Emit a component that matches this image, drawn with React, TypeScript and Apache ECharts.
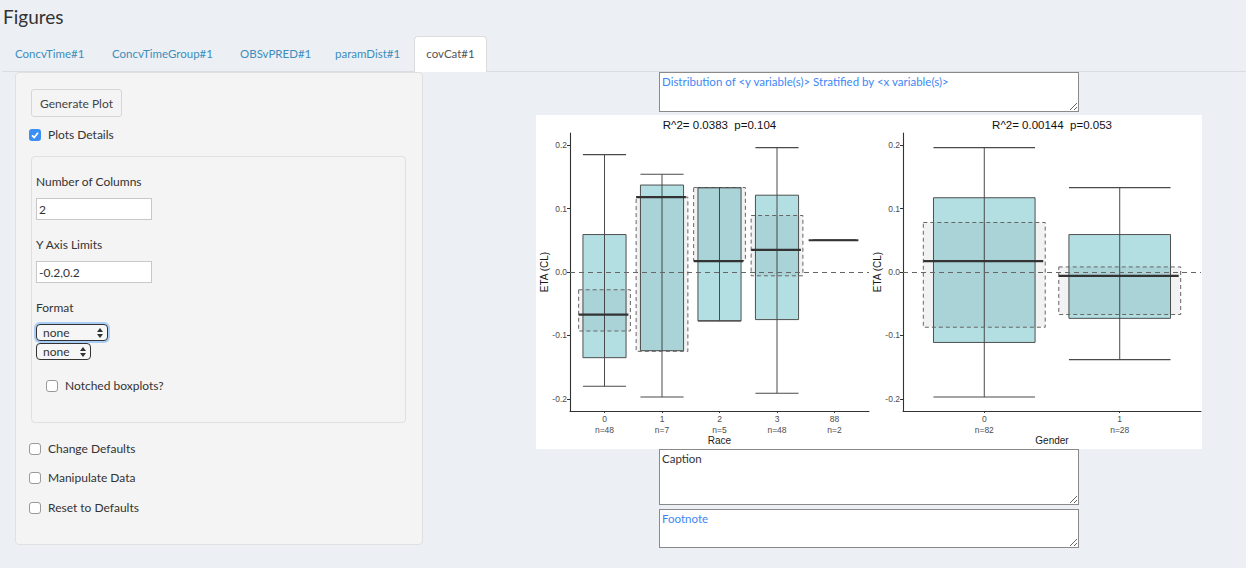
import React, { useEffect, useRef } from 'react';
import * as echarts from 'echarts';

// race panel
const raceCats = ['0', '1', '2', '3', '88'];
const raceN = [48, 7, 5, 48, 2];
const raceLow = [-0.18, -0.197, -0.077, -0.191, 0.05];
const raceQ1 = [-0.135, -0.124, -0.077, -0.075, 0.05];
const raceMed = [-0.067, 0.118, 0.017, 0.035, 0.05];
const raceQ3 = [0.059, 0.137, 0.133, 0.121, 0.05];
const raceHigh = [0.185, 0.154, 0.133, 0.196, 0.05];
const raceCiLow = [-0.093, -0.125, 0.018, -0.006, null];
const raceCiHigh = [-0.028, 0.118, 0.133, 0.089, null];

// gender panel
const genderCats = ['0', '1'];
const genderN = [82, 28];
const genderLow = [-0.197, -0.138];
const genderQ1 = [-0.111, -0.073];
const genderMed = [0.017, -0.006];
const genderQ3 = [0.117, 0.059];
const genderHigh = [0.196, 0.133];
const genderCiLow = [-0.087, -0.067];
const genderCiHigh = [0.078, 0.008];

const yTicks = [-0.2, -0.1, 0, 0.1, 0.2];
const panelTitles = ['R^2= 0.0383  p=0.104', 'R^2= 0.00144  p=0.053'];
const xNames = ['Race', 'Gender'];

const chartFont = '"Liberation Sans", Arial, sans-serif';
const uiFont = 'Lato, "Noto Sans", sans-serif';

const rows = (lo: any[], q1: any[], med: any[], q3: any[], hi: any[], cl: any[], ch: any[]) =>
  lo.map((_, i) => [i, lo[i], q1[i], med[i], q3[i], hi[i], cl[i] ?? '-', ch[i] ?? '-']);

const renderBox = (params: any, api: any) => {
  const x = api.value(0);
  const unit = api.size([1, 0])[0];
  const px = api.coord([x, 0])[0];
  const py = (v: number) => api.coord([x, v])[1];
  const lo = api.value(1);
  const q1 = api.value(2);
  const med = api.value(3);
  const q3 = api.value(4);
  const hi = api.value(5);
  const cLo = api.value(6);
  const cHi = api.value(7);
  const bw = unit * 0.75;
  const dw = unit * 0.9;
  const children: any[] = [
    {
      type: 'rect',
      shape: { x: px - bw / 2, y: py(q3), width: bw, height: py(q1) - py(q3) },
      style: { fill: '#b3dfe3', stroke: '#4f4f4f', lineWidth: 1 },
    },
    {
      type: 'line',
      shape: { x1: px, y1: py(hi), x2: px, y2: py(lo) },
      style: { stroke: '#4a4a4a', lineWidth: 1 },
    },
    {
      type: 'line',
      shape: { x1: px - bw / 2, y1: py(hi), x2: px + bw / 2, y2: py(hi) },
      style: { stroke: '#4a4a4a', lineWidth: 1.1 },
    },
    {
      type: 'line',
      shape: { x1: px - bw / 2, y1: py(lo), x2: px + bw / 2, y2: py(lo) },
      style: { stroke: '#4a4a4a', lineWidth: 1.1 },
    },
  ];
  if (cLo != null && !isNaN(cLo)) {
    children.push({
      type: 'rect',
      shape: { x: px - dw / 2, y: py(cHi), width: dw, height: py(cLo) - py(cHi) },
      style: { fill: 'rgba(0,0,0,0.05)', stroke: '#666', lineWidth: 1, lineDash: [4, 3] },
    });
  }
  children.push({
    type: 'line',
    shape: { x1: px - dw / 2, y1: py(med), x2: px + dw / 2 - 2, y2: py(med) },
    style: { stroke: '#333', lineWidth: 2.2 },
  });
  return { type: 'group', children };
};

const xAxisFor = (idx: number, cats: string[], ns: number[]) => ({
  type: 'value',
  gridIndex: idx,
  min: -0.6,
  max: cats.length - 1 + 0.6,
  axisLine: { show: true, onZero: false, lineStyle: { color: '#333', width: 1.1 } },
  axisTick: {
    show: true,
    length: 2,
    customValues: cats.map((_, i) => i),
    lineStyle: { color: '#333' },
  },
  axisLabel: {
    customValues: cats.map((_, i) => i),
    formatter: (v: number) => `${cats[Math.round(v)]}\nn=${ns[Math.round(v)]}`,
    fontSize: 8.5,
    lineHeight: 10.5,
    margin: 3,
    color: '#4d4d4d',
    fontFamily: chartFont,
  },
  splitLine: { show: false },
  name: xNames[idx],
  nameLocation: 'middle',
  nameGap: 29,
  nameMoveOverlap: false,
  nameTextStyle: { fontSize: 10, color: '#1a1a1a', fontFamily: chartFont, verticalAlign: 'middle' },
});

const yAxisFor = (idx: number) => ({
  type: 'value',
  gridIndex: idx,
  min: -0.219,
  max: 0.219,
  axisLine: { show: true, onZero: false, lineStyle: { color: '#333', width: 1.1 } },
  axisTick: { show: true, length: 3, customValues: yTicks, lineStyle: { color: '#333' } },
  axisLabel: {
    customValues: yTicks,
    formatter: (v: number) => v.toFixed(1),
    fontSize: 8.5,
    margin: 3,
    color: '#4d4d4d',
    fontFamily: chartFont,
  },
  splitLine: { show: false },
  name: 'ETA (CL)',
  nameLocation: 'middle',
  nameGap: 21,
  nameMoveOverlap: false,
  nameTextStyle: { fontSize: 10, color: '#1a1a1a', fontFamily: chartFont },
});

const zeroLine = {
  silent: true,
  symbol: 'none',
  label: { show: false },
  lineStyle: { type: [5, 4], color: '#666', width: 1.1 },
  data: [{ yAxis: 0 }],
};

const CovCatChart: React.FC = () => {
  const chartRef = useRef<HTMLDivElement>(null);

  useEffect(() => {
    if (!chartRef.current) return;
    const chart = echarts.init(chartRef.current, null, { renderer: 'svg' });
    chart.setOption({
      animation: false,
      backgroundColor: '#fff',
      grid: [
        { left: 34, top: 18, width: 299, height: 278, outerBoundsMode: 'none', containLabel: false },
        { left: 367, top: 18, width: 298, height: 278, outerBoundsMode: 'none', containLabel: false },
      ],
      graphic: panelTitles.map((t, i) => ({
        type: 'text',
        x: i === 0 ? 183.5 : 516,
        y: 10,
        style: {
          text: t,
          fontSize: 11.5,
          fontFamily: chartFont,
          fill: '#111',
          align: 'center',
          verticalAlign: 'middle',
        },
      })),
      xAxis: [xAxisFor(0, raceCats, raceN), xAxisFor(1, genderCats, genderN)],
      yAxis: [yAxisFor(0), yAxisFor(1)],
      series: [
        {
          type: 'custom',
          xAxisIndex: 0,
          yAxisIndex: 0,
          renderItem: renderBox,
          encode: { x: 0, y: [1, 2, 3, 4, 5] },
          data: rows(raceLow, raceQ1, raceMed, raceQ3, raceHigh, raceCiLow, raceCiHigh),
          markLine: zeroLine,
        },
        {
          type: 'custom',
          xAxisIndex: 1,
          yAxisIndex: 1,
          renderItem: renderBox,
          encode: { x: 0, y: [1, 2, 3, 4, 5] },
          data: rows(genderLow, genderQ1, genderMed, genderQ3, genderHigh, genderCiLow, genderCiHigh),
          markLine: zeroLine,
        },
      ],
    });
    return () => chart.dispose();
  }, []);

  return (
    <div
      ref={chartRef}
      style={{ position: 'absolute', left: 536, top: 115, width: 666, height: 334 }}
    />
  );
};

const abs = (left: number, top: number, extra: React.CSSProperties = {}): React.CSSProperties => ({
  position: 'absolute',
  left,
  top,
  ...extra,
});

const Label: React.FC<{ x: number; cy: number; text: string; size?: number; color?: string }> = ({
  x,
  cy,
  text,
  size = 12,
  color = '#333',
}) => (
  <div style={abs(x, cy - 9, { lineHeight: '18px', fontSize: size, color, whiteSpace: 'nowrap' })}>{text}</div>
);

const CheckBox: React.FC<{ x: number; cy: number; checked?: boolean }> = ({ x, cy, checked }) => (
  <div
    style={abs(x, cy - 6, {
      width: 12,
      height: 12,
      boxSizing: 'border-box',
      borderRadius: 3,
      border: checked ? 'none' : '1px solid #9a9a9a',
      background: checked ? '#3b8ef3' : '#fff',
    })}
  >
    {checked && (
      <svg width="12" height="12" style={{ display: 'block' }}>
        <polyline points="3,6.3 5.2,8.5 9,3.8" fill="none" stroke="#fff" strokeWidth="1.8" />
      </svg>
    )}
  </div>
);

const Select: React.FC<{ x: number; y: number; w: number; focus?: boolean }> = ({ x, y, w, focus }) => (
  <div
    style={abs(x, y, {
      width: w,
      height: 17,
      boxSizing: 'border-box',
      border: '1px solid #333',
      borderRadius: 4,
      background: '#f6f6f6',
      boxShadow: focus ? '0 0 0 2px #a9cdf5' : 'none',
      fontSize: 12,
      lineHeight: '15px',
      color: '#333',
      paddingLeft: 6,
    })}
  >
    none
    <svg width="6" height="10" style={{ position: 'absolute', right: 4, top: 3 }}>
      <polygon points="0,4 6,4 3,0" fill="#333" />
      <polygon points="0,6 6,6 3,10" fill="#333" />
    </svg>
  </div>
);

const textAreaStyle = (top: number, height: number, color: string): React.CSSProperties => ({
  position: 'absolute',
  left: 659,
  top,
  width: 420,
  height,
  boxSizing: 'border-box',
  border: '1px solid #8a8a8a',
  padding: '2px 2px',
  fontFamily: uiFont,
  fontSize: 11.5,
  color,
  background: '#fff',
  resize: 'both',
  outline: 'none',
});

const tabs = [
  { text: 'ConcvTime#1', x: 15 },
  { text: 'ConcvTimeGroup#1', x: 112 },
  { text: 'OBSvPRED#1', x: 240 },
  { text: 'paramDist#1', x: 335 },
];

const App: React.FC = () => {
  return (
    <div
      style={{
        position: 'absolute',
        left: 0,
        top: 0,
        width: 1246,
        height: 568,
        background: '#ecf0f5',
        fontFamily: uiFont,
        overflow: 'hidden',
      }}
    >
      <div style={abs(3, 5, { fontSize: 19, lineHeight: '24px', color: '#333' })}>Figures</div>

      {/* tabs */}
      <div style={abs(2, 71, { width: 1244, height: 1, background: '#d9dde2' })} />
      {tabs.map(t => (
        <Label key={t.text} x={t.x} cy={54} text={t.text} size={11.5} color="#3c8dbc" />
      ))}
      <div
        style={abs(414, 36, {
          width: 73,
          height: 36,
          boxSizing: 'border-box',
          background: '#fff',
          border: '1px solid #dcdcdc',
          borderBottom: 'none',
          borderRadius: '4px 4px 0 0',
          fontSize: 11.5,
          color: '#555',
          textAlign: 'center',
          lineHeight: '34px',
        })}
      >
        covCat#1
      </div>

      {/* left well */}
      <div
        style={abs(15, 72, {
          width: 408,
          height: 473,
          boxSizing: 'border-box',
          background: '#f4f4f4',
          border: '1px solid #e0e0e0',
          borderRadius: 4,
        })}
      />
      <div
        style={abs(31, 89, {
          width: 91,
          height: 28,
          boxSizing: 'border-box',
          background: '#f4f4f4',
          border: '1px solid #d6d6d6',
          borderRadius: 3,
          fontSize: 12,
          lineHeight: '27px',
          textAlign: 'center',
          color: '#444',
        })}
      >
        Generate Plot
      </div>
      <CheckBox x={29} cy={135} checked />
      <Label x={48} cy={135} text="Plots Details" />

      <div
        style={abs(31, 156, {
          width: 375,
          height: 267,
          boxSizing: 'border-box',
          border: '1px solid #e0e0e0',
          borderRadius: 4,
          background: '#f4f4f4',
        })}
      />
      <Label x={36} cy={182} text="Number of Columns" />
      <input
        readOnly
        value="2"
        style={abs(36, 198, {
          width: 116,
          height: 22,
          boxSizing: 'border-box',
          border: '1px solid #c8c8c8',
          padding: '0 2px',
          fontFamily: uiFont,
          fontSize: 12,
          color: '#333',
          outline: 'none',
        })}
      />
      <Label x={36} cy={245} text="Y Axis Limits" />
      <input
        readOnly
        value="-0.2,0.2"
        style={abs(36, 261, {
          width: 116,
          height: 22,
          boxSizing: 'border-box',
          border: '1px solid #c8c8c8',
          padding: '0 2px',
          fontFamily: uiFont,
          fontSize: 12,
          color: '#333',
          outline: 'none',
        })}
      />
      <Label x={36} cy={308} text="Format" />
      <Select x={36} y={324} w={72} focus />
      <Select x={36} y={343} w={55} />
      <CheckBox x={46} cy={386} />
      <Label x={65} cy={386} text="Notched boxplots?" />

      <CheckBox x={29} cy={449} />
      <Label x={48} cy={449} text="Change Defaults" />
      <CheckBox x={29} cy={478} />
      <Label x={48} cy={478} text="Manipulate Data" />
      <CheckBox x={29} cy={508} />
      <Label x={48} cy={508} text="Reset to Defaults" />

      {/* right column */}
      <textarea
        readOnly
        value="Distribution of <y variable(s)> Stratified by <x variable(s)>"
        style={textAreaStyle(72, 40, '#3d87f5')}
      />
      <CovCatChart />
      <textarea readOnly value="Caption" style={textAreaStyle(449, 56, '#333')} />
      <textarea readOnly value="Footnote" style={textAreaStyle(509, 39, '#3d87f5')} />
    </div>
  );
};

export default App;
